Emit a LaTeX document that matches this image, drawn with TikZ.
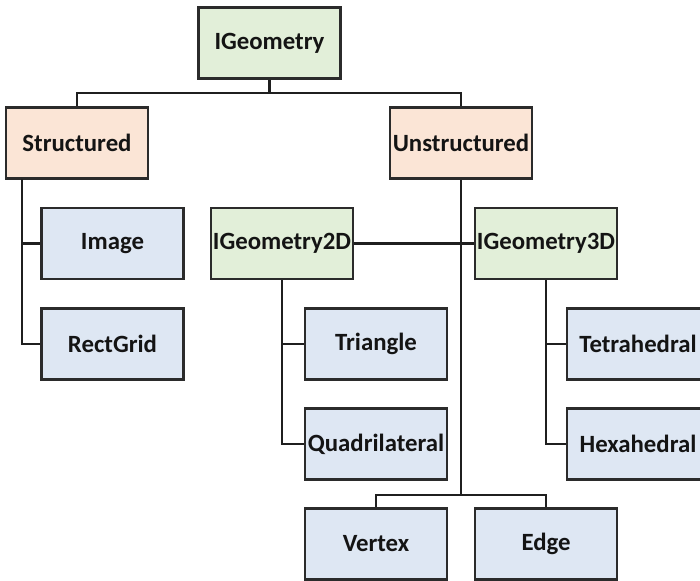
\documentclass[tikz,border=0pt]{standalone}
\usepackage{fontspec}
\setmainfont{Carlito}
\definecolor{ifacefill}{HTML}{E2EFD9}
\definecolor{groupfill}{HTML}{FBE5D6}
\definecolor{classfill}{HTML}{DEE7F3}
\definecolor{edgecol}{HTML}{2B2B2B}
\tikzset{
  box/.style={draw=edgecol, line width=2.4pt, minimum width=142pt, minimum height=71pt,
    inner sep=0pt, font=\fontsize{24.8}{28}\selectfont\bfseries, text=black!92},
  iface/.style={box, fill=ifacefill},
  group/.style={box, fill=groupfill},
  cls/.style={box, fill=classfill},
  link/.style={draw=black!88, line width=2.2pt}
}
\begin{document}
\begin{tikzpicture}[x=1pt,y=-1pt]
  \useasboundingbox (0,0) rectangle (700,580);
  % hierarchy levels
  \node[iface] (ig)  at (269.5,43)  {IGeometry};
  \node[group] (st)  at (77,143)    {Structured};
  \node[group] (un)  at (461,143)   {Unstructured};
  \node[cls]   (img) at (112.5,243.5) {Image};
  \node[cls]   (rg)  at (112.5,344) {RectGrid};
  \node[iface] (g2)  at (282,243.5) {IGeometry2D};
  \node[iface] (g3)  at (546,243.5) {IGeometry3D};
  \node[cls]   (tri) at (376,344)   {Triangle};
  \node[cls]   (tet) at (638,344)   {Tetrahedral};
  \node[cls]   (qd)  at (376,444)   {Quadrilateral};
  \node[cls]   (hx)  at (638,444)   {Hexahedral};
  \node[cls]   (vx)  at (376,544)   {Vertex};
  \node[cls]   (ed)  at (546,544)   {Edge};
  % bus points
  \coordinate (topbus) at (269.5,93);
  \coordinate (sttrunk) at (22,179);
  \coordinate (unbus) at (461,495);
  % connectors
  \draw[link] (ig.south) -- (topbus);
  \draw[link] (topbus) -| (st.north);
  \draw[link] (topbus) -| (un.north);
  \draw[link] (sttrunk) |- (img.west);
  \draw[link] (sttrunk) |- (rg.west);
  \draw[link] (un.south) -- (unbus);
  \draw[link] (unbus) -| (vx.north);
  \draw[link] (unbus) -| (ed.north);
  \draw[link] (g2.east) -- (g3.west);
  \draw[link] (g2.south) |- (tri.west);
  \draw[link] (g2.south) |- (qd.west);
  \draw[link] (g3.south) |- (tet.west);
  \draw[link] (g3.south) |- (hx.west);
\end{tikzpicture}
\end{document}
